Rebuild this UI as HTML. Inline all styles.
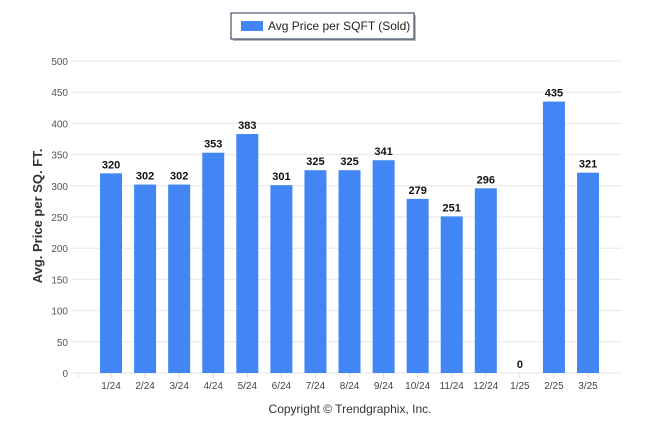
<!DOCTYPE html>
<html><head><meta charset="utf-8"><style>
body{margin:0;background:#fff;}
svg text{font-family:"Liberation Sans",sans-serif;}
</style></head><body>
<svg width="646" height="434" xmlns="http://www.w3.org/2000/svg">
<g>
<rect x="233" y="15" width="183" height="26" fill="#bbb"/>
<rect x="231" y="13" width="183" height="26" fill="#fff" stroke="#1f2d4d" stroke-width="1"/>
<rect x="241" y="21" width="22" height="10" fill="#4285f4"/>
<text x="268" y="30" font-size="12" fill="#222">Avg Price per SQFT (Sold)</text>
</g>
<g id="grid"></g>
<g id="bars"></g>
<text transform="translate(42,216) rotate(-90)" text-anchor="middle" font-size="13" font-weight="bold" fill="#333">Avg. Price per SQ. FT.</text>
<text x="350" y="413" text-anchor="middle" font-size="12" fill="#333">Copyright © Trendgraphix, Inc.</text>
</svg>
<script>
const categories=["1/24","2/24","3/24","4/24","5/24","6/24","7/24","8/24","9/24","10/24","11/24","12/24","1/25","2/25","3/25"];
const values=[320,302,302,353,383,301,325,325,341,279,251,296,0,435,321];
const yTicks=[0,50,100,150,200,250,300,350,400,450,500];
const NS="http://www.w3.org/2000/svg";
const y0=373,y1=61,ymax=500;
const yScale=v=>y0-(v/ymax)*(y0-y1);
const x0=94,step=34.07;
const xScale=i=>x0+step*(i+0.5);
const bw=22;
function mk(tag,attrs,parent){const e=document.createElementNS(NS,tag);for(const k in attrs)e.setAttribute(k,attrs[k]);parent.appendChild(e);return e;}
const grid=document.getElementById('grid');
yTicks.forEach(t=>{
  const l=mk('line',{x1:71,x2:622,y1:yScale(t),y2:yScale(t),stroke:'#e6e6e6','stroke-width':1},grid);
  
  
  const tx=mk('text',{x:68,y:yScale(t)+4,'text-anchor':'end','font-size':10,fill:'#555'},grid);
  tx.textContent=t;
  
  
});
const bars=document.getElementById('bars');
mk('line',{x1:78,x2:78,y1:y0,y2:y0+5,stroke:'#ddd'},bars);
categories.forEach((c,i)=>{
  const cx=xScale(i),v=values[i];
  const r=mk('rect',{x:cx-bw/2,y:yScale(v),width:bw,height:y0-yScale(v),fill:'#4285f4'},bars);
  
  
  const vl=mk('text',{x:cx,y:yScale(v)-5,'text-anchor':'middle','font-size':11,'font-weight':'bold',fill:'#111'},bars);
  vl.textContent=v;
  
  
  const tk=mk('line',{x1:cx,x2:cx,y1:y0,y2:y0+5,stroke:'#ddd'},bars);
  
  
  const xl=mk('text',{x:cx,y:y0+16,'text-anchor':'middle','font-size':10,fill:'#444'},bars);
  xl.textContent=c;
  
  
});
</script>
</body></html>
